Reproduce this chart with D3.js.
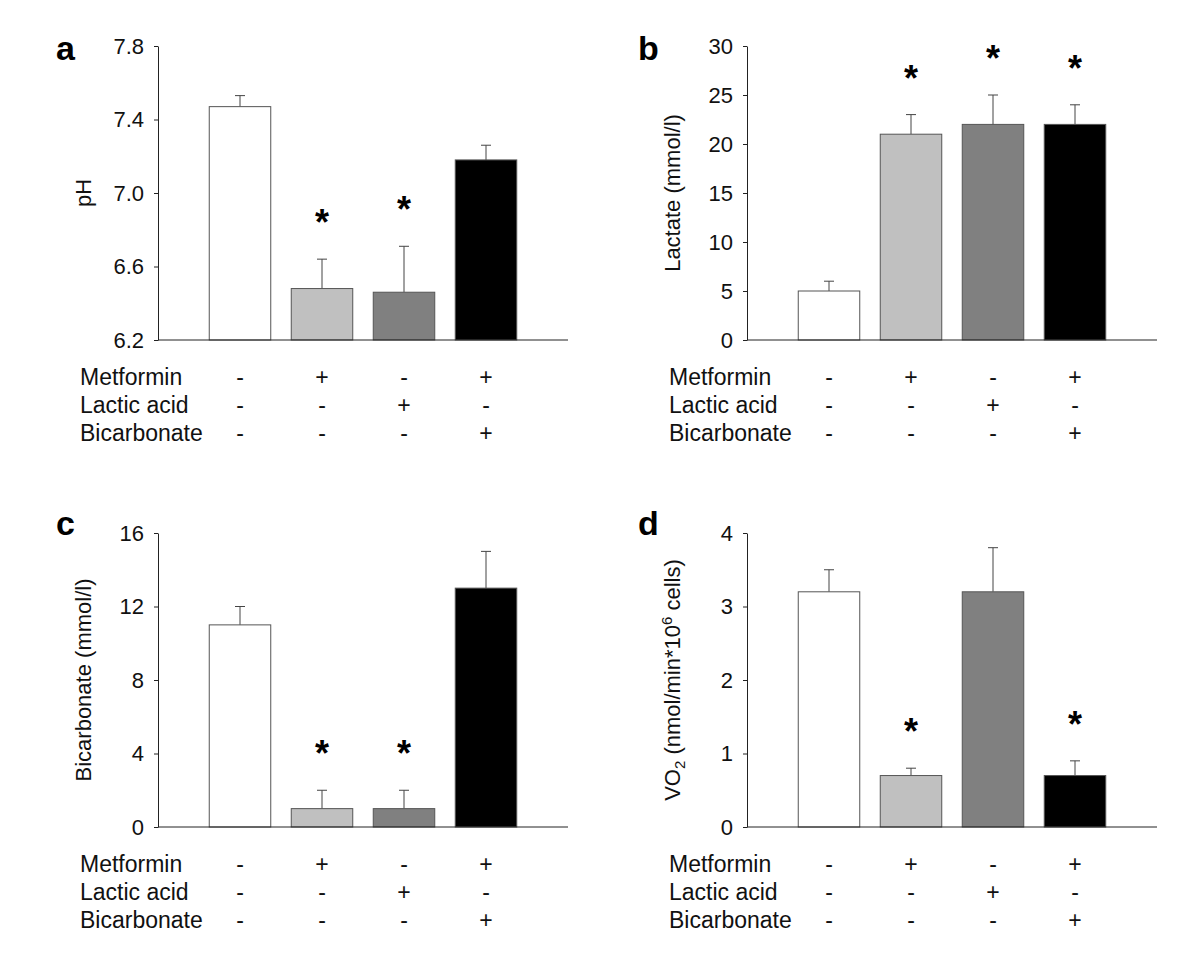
<!DOCTYPE html>
<meta charset="utf-8">
<style>
  body { margin: 0; background: #fff; }
  svg { font-family: "Liberation Sans", Arial, sans-serif; }
</style>
<svg width="1200" height="962"></svg>
<script src="https://cdn.jsdelivr.net/npm/d3@7"></script>
<script>

// groups along the x axis and the treatment table underneath
var groups = ["control", "metformin", "lactic", "metformin+bicarb"];
var treatments = ["Metformin", "Lactic acid", "Bicarbonate"];
var signs = [
  ["-", "+", "-", "+"],
  ["-", "-", "+", "-"],
  ["-", "-", "-", "+"]
];
var fills = ["#ffffff", "#c0c0c0", "#808080", "#000000"];

// a: pH
var phMean = [7.47, 6.48, 6.46, 7.18];
var phErr  = [0.06, 0.16, 0.25, 0.08];
var phStar = [false, true, true, false];
var phTicks = [6.2, 6.6, 7.0, 7.4, 7.8];

// b: lactate
var lacMean = [5, 21, 22, 22];
var lacErr  = [1, 2, 3, 2];
var lacStar = [false, true, true, true];
var lacTicks = [0, 5, 10, 15, 20, 25, 30];

// c: bicarbonate
var bicMean = [11, 1, 1, 13];
var bicErr  = [1, 1, 1, 2];
var bicStar = [false, true, true, false];
var bicTicks = [0, 4, 8, 12, 16];

// d: VO2
var vo2Mean = [3.2, 0.7, 3.2, 0.7];
var vo2Err  = [0.3, 0.1, 0.6, 0.2];
var vo2Star = [false, true, false, true];
var vo2Ticks = [0, 1, 2, 3, 4];

var W = 410, H = 294;
var svg = d3.select("svg");

function panel(opt) {
  var g = svg.append("g").attr("transform", "translate(" + opt.left + "," + opt.top + ")");

  var x = d3.scaleBand().domain(groups).range([41, 369]).paddingInner(0.25).paddingOuter(0.125);
  var y = d3.scaleLinear().domain(opt.domain).range([H, 0]);
  var cx = function(i) { return x(groups[i]) + x.bandwidth() / 2; };

  var ax = g.append("g")
    .call(d3.axisLeft(y).tickValues(opt.ticks).tickSize(4).tickSizeOuter(0).tickPadding(10).tickFormat(opt.fmt));
  ax.select(".domain").attr("stroke", "#222");
  ax.selectAll(".tick line").attr("stroke", "#222");
  ax.selectAll("text").attr("font-size", 22).attr("fill", "#111").attr("font-family", null);

  var bars = g.append("g").selectAll("g").data(opt.mean).join("g");

  // error bars, upward only
  bars.append("line")
    .attr("x1", function(d, i) { return cx(i); })
    .attr("x2", function(d, i) { return cx(i); })
    .attr("y1", function(d) { return y(d); })
    .attr("y2", function(d, i) { return y(d + opt.err[i]); })
    .attr("stroke", "#444");
  bars.append("line")
    .attr("x1", function(d, i) { return cx(i) - 5; })
    .attr("x2", function(d, i) { return cx(i) + 5; })
    .attr("y1", function(d, i) { return y(d + opt.err[i]); })
    .attr("y2", function(d, i) { return y(d + opt.err[i]); })
    .attr("stroke", "#444");

  bars.append("rect")
    .attr("x", function(d, i) { return x(groups[i]); })
    .attr("y", function(d) { return y(d); })
    .attr("width", x.bandwidth())
    .attr("height", function(d) { return H - y(d); })
    .attr("fill", function(d, i) { return fills[i]; })
    .attr("stroke", "#555");

  // significance stars
  bars.each(function(d, i) {
    if (!opt.star[i]) return;
    d3.select(this).append("text")
      .attr("x", cx(i))
      .attr("y", y(d + opt.err[i]) - 24)
      .attr("text-anchor", "middle")
      .attr("font-size", 36)
      .attr("font-weight", "bold")
      .text("*");
  });

  // baseline
  g.append("line").attr("x1", 0).attr("x2", W).attr("y1", H).attr("y2", H).attr("stroke", "#222");

  // y title
  var t = g.append("text")
    .attr("transform", "translate(-67," + (H / 2) + ")rotate(-90)")
    .attr("text-anchor", "middle")
    .attr("font-size", 22)
    .attr("fill", "#111");
  opt.title(t);

  // panel letter
  svg.append("text")
    .attr("x", opt.letterX).attr("y", opt.letterY)
    .attr("font-size", 34).attr("font-weight", "bold")
    .text(opt.letter);

  // treatment table
  treatments.forEach(function(name, r) {
    g.append("text").attr("x", -78).attr("y", H + 45 + r * 28)
      .attr("font-size", 23).attr("fill", "#111").text(name);
    signs[r].forEach(function(s, i) {
      g.append("text")
        .attr("x", cx(i))
        .attr("y", H + 45 + r * 28)
        .attr("text-anchor", "middle")
        .attr("font-size", 23).attr("fill", "#111").text(s);
    });
  });
}

panel({ left: 158, top: 46, domain: [6.2, 7.8], ticks: phTicks, fmt: d3.format(".1f"),
  mean: phMean, err: phErr, star: phStar, letter: "a", letterX: 56, letterY: 60,
  title: function(t) { t.text("pH"); } });

panel({ left: 747, top: 46, domain: [0, 30], ticks: lacTicks, fmt: d3.format("d"),
  mean: lacMean, err: lacErr, star: lacStar, letter: "b", letterX: 638, letterY: 60,
  title: function(t) { t.text("Lactate (mmol/l)"); } });

panel({ left: 158, top: 533, domain: [0, 16], ticks: bicTicks, fmt: d3.format("d"),
  mean: bicMean, err: bicErr, star: bicStar, letter: "c", letterX: 56, letterY: 535,
  title: function(t) { t.text("Bicarbonate (mmol/l)"); } });

panel({ left: 747, top: 533, domain: [0, 4], ticks: vo2Ticks, fmt: d3.format("d"),
  mean: vo2Mean, err: vo2Err, star: vo2Star, letter: "d", letterX: 638, letterY: 535,
  title: function(t) {
    t.append("tspan").text("VO");
    t.append("tspan").attr("font-size", 15).attr("dy", 5).text("2");
    t.append("tspan").attr("dy", -5).text(" (nmol/min*10");
    t.append("tspan").attr("font-size", 15).attr("dy", -8).text("6");
    t.append("tspan").attr("dy", 8).text(" cells)");
  } });

</script>
